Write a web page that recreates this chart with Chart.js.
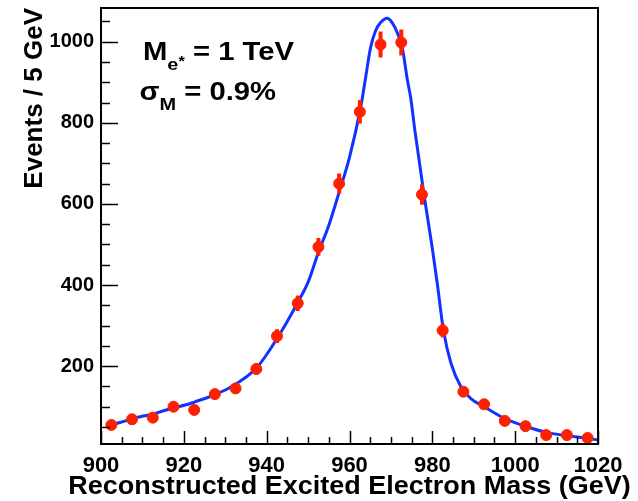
<!DOCTYPE html>
<html>
<head>
<meta charset="utf-8">
<script src="https://cdn.jsdelivr.net/npm/chart.js@4.4.1/dist/chart.umd.min.js"></script>
<style>
  body { margin: 0; background: #fff; }
  #wrap { width: 638px; height: 501px; }
</style>
</head>
<body>
<div id="wrap"><canvas id="chart" width="638" height="501"></canvas></div>
<script>
// data (5 GeV bins)
const binCenters = [902.5, 907.5, 912.5, 917.5, 922.5, 927.5, 932.5, 937.5, 942.5, 947.5, 952.5, 957.5,
                    962.5, 967.5, 972.5, 977.5, 982.5, 987.5, 992.5, 997.5, 1002.5, 1007.5, 1012.5, 1017.5];
const eventCounts = [55, 69, 73, 100, 92, 131, 145, 193, 274, 355, 494, 650,
                     827, 993, 998, 623, 288, 137, 106, 65, 52, 30, 30, 23];
const eventErrors = [7, 8, 9, 10, 10, 11, 12, 14, 17, 19, 22, 25,
                     29, 32, 32, 25, 17, 12, 10, 8, 7, 5, 5, 5];

// fitted curve, sampled by eye along the blue line
const fitMass = [901.4, 904.6, 907.8, 910.2, 912.7, 915.1, 917.9, 920.3, 922.7, 925.6, 927.8, 930.4,
                 932.7, 935.3, 937.7, 940.1, 942.5, 944.9, 947.4, 950, 952.5, 955, 957.5, 960,
                 962.7, 963.9, 965.1, 966.3, 967.5, 969.1, 970.3, 971.5, 972.8, 974.0, 974.8, 975.8,
                 978.0, 980.0, 981.2, 982.7, 984.5, 986.9, 989.3, 992.5, 997.4, 1003, 1007.8, 1012.6,
                 1017.5, 1019.9];
const fitValues = [54, 61, 71, 77, 82, 90, 98, 104, 112, 122, 131, 143,
                   157, 175, 197, 230, 268, 309, 355, 407, 481, 547, 629, 715,
                   838, 912, 986, 1027, 1047, 1058, 1047, 1023, 982, 904, 860, 780,
                   622, 490, 403, 287, 207, 149, 120, 100, 71, 50, 36, 28,
                   22, 18];

const xTickValues = [900, 920, 940, 960, 980, 1000, 1020];
const yTickValues = [200, 400, 600, 800, 1000];
const xTitle = 'Reconstructed Excited Electron Mass (GeV)';

const RED = 'rgb(255,32,0)';
const BLUE = 'rgb(20,50,255)';
const FONT = '"Liberation Sans", Arial, Helvetica, sans-serif';

// error bars, frame, inside ticks, x title and the label box
const decorations = {
  id: 'decorations',
  afterDatasetsDraw(chart) {
    const ctx = chart.ctx;
    const xs = chart.scales.x, ys = chart.scales.y;
    const area = chart.chartArea;

    ctx.save();
    ctx.strokeStyle = RED;
    ctx.lineWidth = 4;
    binCenters.forEach((m, i) => {
      const px = xs.getPixelForValue(m);
      ctx.beginPath();
      ctx.moveTo(px, ys.getPixelForValue(eventCounts[i] - eventErrors[i]));
      ctx.lineTo(px, ys.getPixelForValue(eventCounts[i] + eventErrors[i]));
      ctx.stroke();
    });
    ctx.restore();

    ctx.save();
    ctx.strokeStyle = '#000';
    ctx.lineWidth = 1.5;
    ctx.beginPath();
    // x ticks: major every 20, minor every 5
    for (let v = xs.min; v <= xs.max; v += 5) {
      const px = Math.round(xs.getPixelForValue(v)) + 0.5;
      const len = xTickValues.includes(v) ? 13 : 7;
      ctx.moveTo(px, area.bottom);
      ctx.lineTo(px, area.bottom - len);
    }
    // y ticks: major every 200, minor every 50
    for (let v = 50; v <= ys.max; v += 50) {
      if (v < ys.min) continue;
      const py = Math.round(ys.getPixelForValue(v)) + 0.5;
      const len = yTickValues.includes(v) ? 17 : 9;
      ctx.moveTo(area.left, py);
      ctx.lineTo(area.left + len, py);
    }
    ctx.stroke();
    ctx.lineWidth = 2;
    ctx.strokeRect(area.left, area.top, area.right - area.left, area.bottom - area.top);
    ctx.restore();

    // x axis title (wider than the plot, so not drawn by the scale)
    ctx.save();
    ctx.fillStyle = '#000';
    ctx.font = 'bold 25px ' + FONT;
    ctx.textAlign = 'center';
    ctx.textBaseline = 'alphabetic';
    ctx.translate((area.left + area.right) / 2, 494);
    ctx.scale(1.08, 1);
    ctx.fillText(xTitle, 0, 0);
    ctx.restore();

    // text box
    ctx.save();
    ctx.fillStyle = '#000';
    ctx.textBaseline = 'alphabetic';
    ctx.translate(143, 0);
    ctx.scale(1.17, 1);
    let x = 0;
    ctx.font = 'bold 25px ' + FONT;
    ctx.fillText('M', x, 60);
    x += ctx.measureText('M').width;
    ctx.font = 'bold 17px ' + FONT;
    ctx.fillText('e', x, 70);
    x += ctx.measureText('e').width;
    ctx.font = 'bold 14px ' + FONT;
    ctx.fillText('*', x, 66);
    x += ctx.measureText('*').width;
    ctx.font = 'bold 25px ' + FONT;
    ctx.fillText(' = 1 TeV', x, 60);

    x = -3;
    ctx.font = 'bold 25px ' + FONT;
    ctx.fillText('\u03c3', x, 100);
    x += ctx.measureText('\u03c3').width;
    ctx.font = 'bold 17px ' + FONT;
    ctx.fillText('M', x, 110);
    x += ctx.measureText('M').width;
    ctx.font = 'bold 25px ' + FONT;
    ctx.fillText(' = 0.9%', x, 100);
    ctx.restore();
  }
};

new Chart(document.getElementById('chart').getContext('2d'), {
  type: 'scatter',
  data: {
    datasets: [
      {
        label: 'Events',
        data: binCenters.map((m, i) => ({ x: m, y: eventCounts[i] })),
        backgroundColor: RED,
        borderColor: RED,
        pointRadius: 5.5,
        pointHoverRadius: 5.5,
        showLine: false
      },
      {
        label: 'Fit',
        data: fitMass.map((m, i) => ({ x: m, y: fitValues[i] })),
        borderColor: BLUE,
        borderWidth: 3,
        pointRadius: 0,
        showLine: true,
        fill: false,
        cubicInterpolationMode: 'monotone'
      }
    ]
  },
  options: {
    responsive: false,
    animation: false,
    events: [],
    layout: { padding: { top: 8, right: 40, bottom: 0, left: 0 } },
    plugins: { legend: { display: false }, tooltip: { enabled: false } },
    scales: {
      x: {
        type: 'linear',
        min: 900,
        max: 1020,
        afterFit: (s) => { s.height = 57; s.paddingLeft = 0; s.paddingRight = 0; },
        afterBuildTicks: (s) => { s.ticks = xTickValues.map(v => ({ value: v })); },
        grid: { display: false, drawTicks: false },
        border: { display: false },
        ticks: {
          color: '#000',
          padding: 9,
          maxRotation: 0,
          callback: (v) => String(v),
          font: { family: FONT, size: 22, weight: 'bold' }
        },
        title: { display: false }
      },
      y: {
        type: 'linear',
        min: 8,
        max: 1083,
        afterFit: (s) => { s.width = 101; s.paddingTop = 0; s.paddingBottom = 0; },
        afterBuildTicks: (s) => { s.ticks = yTickValues.map(v => ({ value: v })); },
        grid: { display: false, drawTicks: false },
        border: { display: false },
        ticks: {
          color: '#000',
          padding: 7,
          callback: (v) => String(v),
          font: { family: FONT, size: 20, weight: 'bold' }
        },
        title: {
          display: true,
          text: 'Events / 5 GeV',
          align: 'end',
          color: '#000',
          padding: { top: 19, bottom: 0 },
          font: { family: FONT, size: 26, weight: 'bold' }
        }
      }
    }
  },
  plugins: [decorations]
});
</script>
</body>
</html>
